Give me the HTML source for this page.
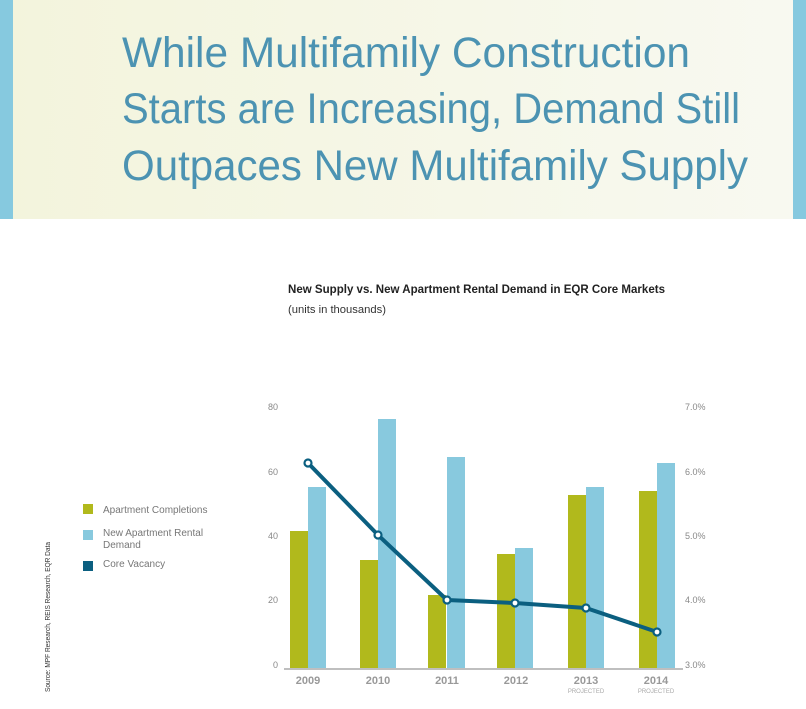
<!DOCTYPE html>
<html><head><meta charset="utf-8"><style>
html,body{margin:0;padding:0;background:#fff;}
body{width:806px;height:704px;overflow:hidden;}
</style></head><body>
<svg width="806" height="704" viewBox="0 0 806 704" xmlns="http://www.w3.org/2000/svg" font-family="Liberation Sans, sans-serif">
<defs><linearGradient id="bg" x1="0" x2="1" y1="0" y2="0"><stop offset="0" stop-color="#f3f4dc"/><stop offset="1" stop-color="#f8f9f1"/></linearGradient></defs>
<rect x="0" y="0" width="806" height="219" fill="url(#bg)"/>
<rect x="0" y="0" width="13" height="219" fill="#86c9df"/>
<rect x="793" y="0" width="13" height="219" fill="#86c9df"/>
<g fill="#4c93b2" font-size="43" font-weight="300">
<text x="122" y="67" textLength="568" lengthAdjust="spacingAndGlyphs">While Multifamily Construction</text>
<text x="122" y="123" textLength="618" lengthAdjust="spacingAndGlyphs">Starts are Increasing, Demand Still</text>
<text x="122" y="180" textLength="626" lengthAdjust="spacingAndGlyphs">Outpaces New Multifamily Supply</text>
</g>
<text x="288" y="293" font-size="12" font-weight="bold" fill="#222" textLength="377" lengthAdjust="spacingAndGlyphs">New Supply vs. New Apartment Rental Demand in EQR Core Markets</text>
<text x="288" y="313" font-size="11" fill="#333" textLength="98" lengthAdjust="spacingAndGlyphs">(units in thousands)</text>
<g font-size="9" fill="#888" text-anchor="end">
<text x="278" y="410">80</text><text x="278" y="475">60</text><text x="278" y="539">40</text><text x="278" y="603">20</text><text x="278" y="668">0</text>
</g>
<g font-size="9" fill="#888">
<text x="685" y="410">7.0%</text><text x="685" y="475">6.0%</text><text x="685" y="539">5.0%</text><text x="685" y="603">4.0%</text><text x="685" y="668">3.0%</text>
</g>
<g fill="#b1b91c">
<rect x="290" y="531" width="18" height="137"/><rect x="360" y="560" width="18" height="108"/><rect x="428" y="595" width="18" height="73"/><rect x="497" y="554" width="18" height="114"/><rect x="568" y="495" width="18" height="173"/><rect x="639" y="491" width="18" height="177"/>
</g>
<g fill="#88c9de">
<rect x="308" y="487" width="18" height="181"/><rect x="378" y="419" width="18" height="249"/><rect x="447" y="457" width="18" height="211"/><rect x="515" y="548" width="18" height="120"/><rect x="586" y="487" width="18" height="181"/><rect x="657" y="463" width="18" height="205"/>
</g>
<line x1="284" y1="669" x2="683" y2="669" stroke="#aaa" stroke-width="1.5"/>
<polyline points="308,463 378,535 447,600 515,603 586,608 657,632" fill="none" stroke="#0b5f80" stroke-width="4" stroke-linejoin="round"/>
<g fill="#fff" stroke="#0b5f80" stroke-width="2.2">
<circle cx="308" cy="463" r="3.5"/><circle cx="378" cy="535" r="3.5"/><circle cx="447" cy="600" r="3.5"/><circle cx="515" cy="603" r="3.5"/><circle cx="586" cy="608" r="3.5"/><circle cx="657" cy="632" r="3.5"/>
</g>
<g font-size="11" font-weight="bold" fill="#999" text-anchor="middle">
<text x="308" y="684">2009</text><text x="378" y="684">2010</text><text x="447" y="684">2011</text><text x="516" y="684">2012</text><text x="586" y="684">2013</text><text x="656" y="684">2014</text>
</g>
<g font-size="6" fill="#aaa" text-anchor="middle">
<text x="586" y="693">PROJECTED</text><text x="656" y="693">PROJECTED</text>
</g>
<rect x="83" y="504" width="10" height="10" fill="#b1b91c"/>
<rect x="83" y="530" width="10" height="10" fill="#88c9de"/>
<rect x="83" y="561" width="10" height="10" fill="#0b5f80"/>
<g font-size="10" fill="#777">
<text x="103" y="513">Apartment Completions</text>
<text x="103" y="536">New Apartment Rental</text>
<text x="103" y="548">Demand</text>
<text x="103" y="567">Core Vacancy</text>
</g>
<text transform="translate(50,692) rotate(-90)" font-size="7.5" fill="#333" textLength="150" lengthAdjust="spacingAndGlyphs">Source: MPF Research, REIS Research, EQR Data</text>
</svg>
</body></html>
